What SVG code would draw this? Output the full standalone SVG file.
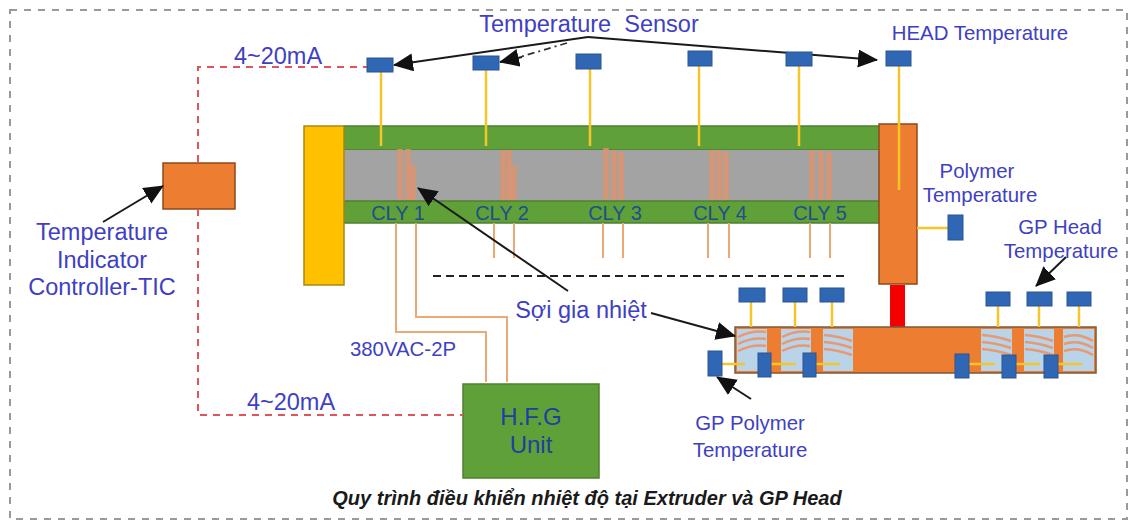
<svg xmlns="http://www.w3.org/2000/svg" width="1129" height="520" viewBox="0 0 1129 520">
<style>
text{font-family:"Liberation Sans",Arial,sans-serif;fill:#3f3fc4;font-size:20.4px;text-anchor:middle}
.big{font-size:23.5px}
.cly{fill:#1f4e8c;font-size:20px}
.hfg{fill:#1f3fa0;font-size:24px}
.s{fill:#2f67b5;stroke:#2c5590;stroke-width:1}
.y{stroke:#f5c52a;stroke-width:2.5;fill:none}
.w{stroke:#eda878;stroke-width:2;fill:none}
.h{stroke:#e0926a;stroke-width:5.5;fill:none;opacity:.8}
.r{stroke:#e0555a;stroke-width:2;stroke-dasharray:7 6;fill:none}
.a{stroke:#1a1a1a;stroke-width:2;fill:none;marker-end:url(#ah)}
.o{fill:#ed7d31;stroke:#8a4a1e;stroke-width:1.5}
.c{fill:#b9d3e8}
.t{stroke:#e79a72;stroke-width:2.5;fill:none}
</style>
<defs>
<marker id="ah" markerUnits="userSpaceOnUse" markerWidth="22" markerHeight="20" refX="19" refY="9" orient="auto"><path d="M0 0L20 9L0 18Z" fill="#111"/></marker>
</defs>
<rect width="1129" height="520" fill="#fff"/>
<rect x="10" y="10" width="1117" height="509" fill="none" stroke="#9a9a9a" stroke-width="2" stroke-dasharray="7 7"/>

<g id="extruder">
<rect x="344" y="126" width="536" height="24" fill="#5fa038" stroke="#4f7f33" stroke-width="1.5"/>
<rect x="344" y="150" width="536" height="51" fill="#a3a3a3"/>
<rect x="344" y="201" width="536" height="22" fill="#5fa038" stroke="#4f7f33" stroke-width="1.5"/>
<path class="h" d="M400 149V200M408 149V200M413 165V200M503 150V200M509 150V200M514 165V200M606 148V200M614 150V200M621 152V200M712 150V200M719 150V200M726 152V200M812 150V200M821 150V200M829 152V200"/>
</g>
<g id="hopper"><rect x="304" y="126" width="40" height="159" fill="#ffc000" stroke="#a98a10" stroke-width="1.5"/></g>
<g id="head"><rect x="879" y="124" width="38" height="160" class="o"/></g>
<g id="neck"><rect x="890" y="285" width="15" height="42" fill="#f40000"/></g>
<g id="tic"><rect x="163" y="163" width="72" height="46" class="o"/></g>
<g id="hfg"><rect x="463" y="384" width="136" height="94" fill="#5fa038" stroke="#4f7f33" stroke-width="1.5"/>
<text class="hfg" x="531" y="425">H.F.G</text><text class="hfg" x="531" y="453">Unit</text></g>

<g id="gp-head">
<rect x="735" y="327" width="361" height="46" fill="#ed7d31" stroke="#7b5a3a" stroke-width="1.5"/>
<g id="gp-cells">
<rect class="c" x="737" y="329" width="30" height="42"/><rect class="c" x="781" y="329" width="30" height="42"/><rect class="c" x="823" y="329" width="30" height="42"/>
<rect class="c" x="981" y="329" width="31" height="42"/><rect class="c" x="1024" y="329" width="30" height="42"/><rect class="c" x="1063" y="329" width="31" height="42"/>
<path class="t" d="M738 337Q752 330 766 332M738 344Q752 337 766 339M738 351Q752 344 766 346M782 337Q796 330 810 332M782 344Q796 337 810 339M782 351Q796 344 810 346M824 335Q838 336 852 341M824 342Q838 343 852 348M824 349Q838 350 852 355M982 335Q996 336 1011 341M982 342Q996 343 1011 348M982 349Q996 350 1011 355M1025 335Q1039 336 1053 341M1025 342Q1039 343 1053 348M1025 349Q1039 350 1053 355M1064 337Q1078 332 1093 341M1064 344Q1078 339 1093 348M1064 351Q1078 346 1093 355"/>
</g>
</g>

<g id="connectors">
<path class="r" d="M198 162V67H367M198 209V415H463"/>
<path class="y" d="M381 72V146M486 70V146M590 69V146M699 66V146M799 66V146M899 66V190M917 228H948"/>
<path class="y" d="M751 302V327M795 302V327M832 302V327M998 306V327M1039 306V327M1079 306V327M722 364H745M771 364H796M816 364H840M969 364H995M1016 364H1040M1058 364H1082"/>
<path class="w" d="M396 223V332H486V382M416 223V317H507V382M494 223V258M514 223V258M603 223V258M623 223V258M708 223V258M729 223V258M810 223V258M830 223V258"/>
<path d="M433 276H847" stroke="#222" stroke-width="2" stroke-dasharray="8 5" fill="none"/>
<path class="a" d="M588 37L394 65"/>
<path class="a" d="M588 37L877 60"/>
<path d="M567 43L520 57" stroke="#333" stroke-width="1.8" stroke-dasharray="7 4 2 4" fill="none"/>
<path class="a" d="M522 57L500 62"/>
<path class="a" d="M103 222L163 186"/>
<path class="a" d="M568 291L418 188"/>
<path class="a" d="M651 313L735 336"/>
<path class="a" d="M751 399L717 377"/>
<path class="a" d="M1066 257L1036 286"/>
</g>

<g id="sensors">
<rect class="s" x="367" y="58" width="26" height="14"/>
<rect class="s" x="473" y="56" width="26" height="14"/>
<rect class="s" x="576" y="54" width="25" height="15"/>
<rect class="s" x="688" y="51" width="24" height="15"/>
<rect class="s" x="786" y="52" width="26" height="14"/>
<rect class="s" x="886" y="51" width="25" height="15"/>
<rect class="s" x="948" y="215" width="15" height="25"/>
<rect class="s" x="739" y="288" width="26" height="14"/>
<rect class="s" x="783" y="288" width="24" height="14"/>
<rect class="s" x="820" y="288" width="24" height="14"/>
<rect class="s" x="986" y="292" width="24" height="14"/>
<rect class="s" x="1027" y="292" width="25" height="14"/>
<rect class="s" x="1067" y="292" width="24" height="14"/>
<rect class="s" x="708" y="351" width="14" height="25"/>
<rect class="s" x="758" y="353" width="13" height="24"/>
<rect class="s" x="803" y="353" width="13" height="24"/>
<rect class="s" x="955" y="354" width="14" height="24"/>
<rect class="s" x="1002" y="355" width="14" height="23"/>
<rect class="s" x="1044" y="355" width="14" height="23"/>
</g>

<g id="labels">
<text class="big" x="589" y="32" style="white-space:pre">Temperature  Sensor</text>
<text x="980" y="40">HEAD Temperature</text>
<text class="big" x="278" y="64">4~20mA</text>
<text class="big" x="291" y="410">4~20mA</text>
<text class="big" x="102" y="240">Temperature</text>
<text class="big" x="102" y="268">Indicator</text>
<text class="big" x="102" y="295">Controller-TIC</text>
<text x="977" y="178">Polymer</text>
<text x="980" y="202">Temperature</text>
<text x="1060" y="234">GP Head</text>
<text x="1061" y="258">Temperature</text>
<text class="big" x="581" y="318">Sợi gia nhiệt</text>
<text x="403" y="356">380VAC-2P</text>
<text x="750" y="430">GP Polymer</text>
<text x="750" y="457">Temperature</text>
<text class="cly" x="398" y="220">CLY 1</text>
<text class="cly" x="502" y="220">CLY 2</text>
<text class="cly" x="615" y="220">CLY 3</text>
<text class="cly" x="720" y="220">CLY 4</text>
<text class="cly" x="820" y="220">CLY 5</text>
<text x="587" y="505" style="font-size:20px;font-weight:bold;font-style:italic;fill:#1a1a1a">Quy trình điều khiển nhiệt độ tại Extruder và GP Head</text>
</g>
</svg>
